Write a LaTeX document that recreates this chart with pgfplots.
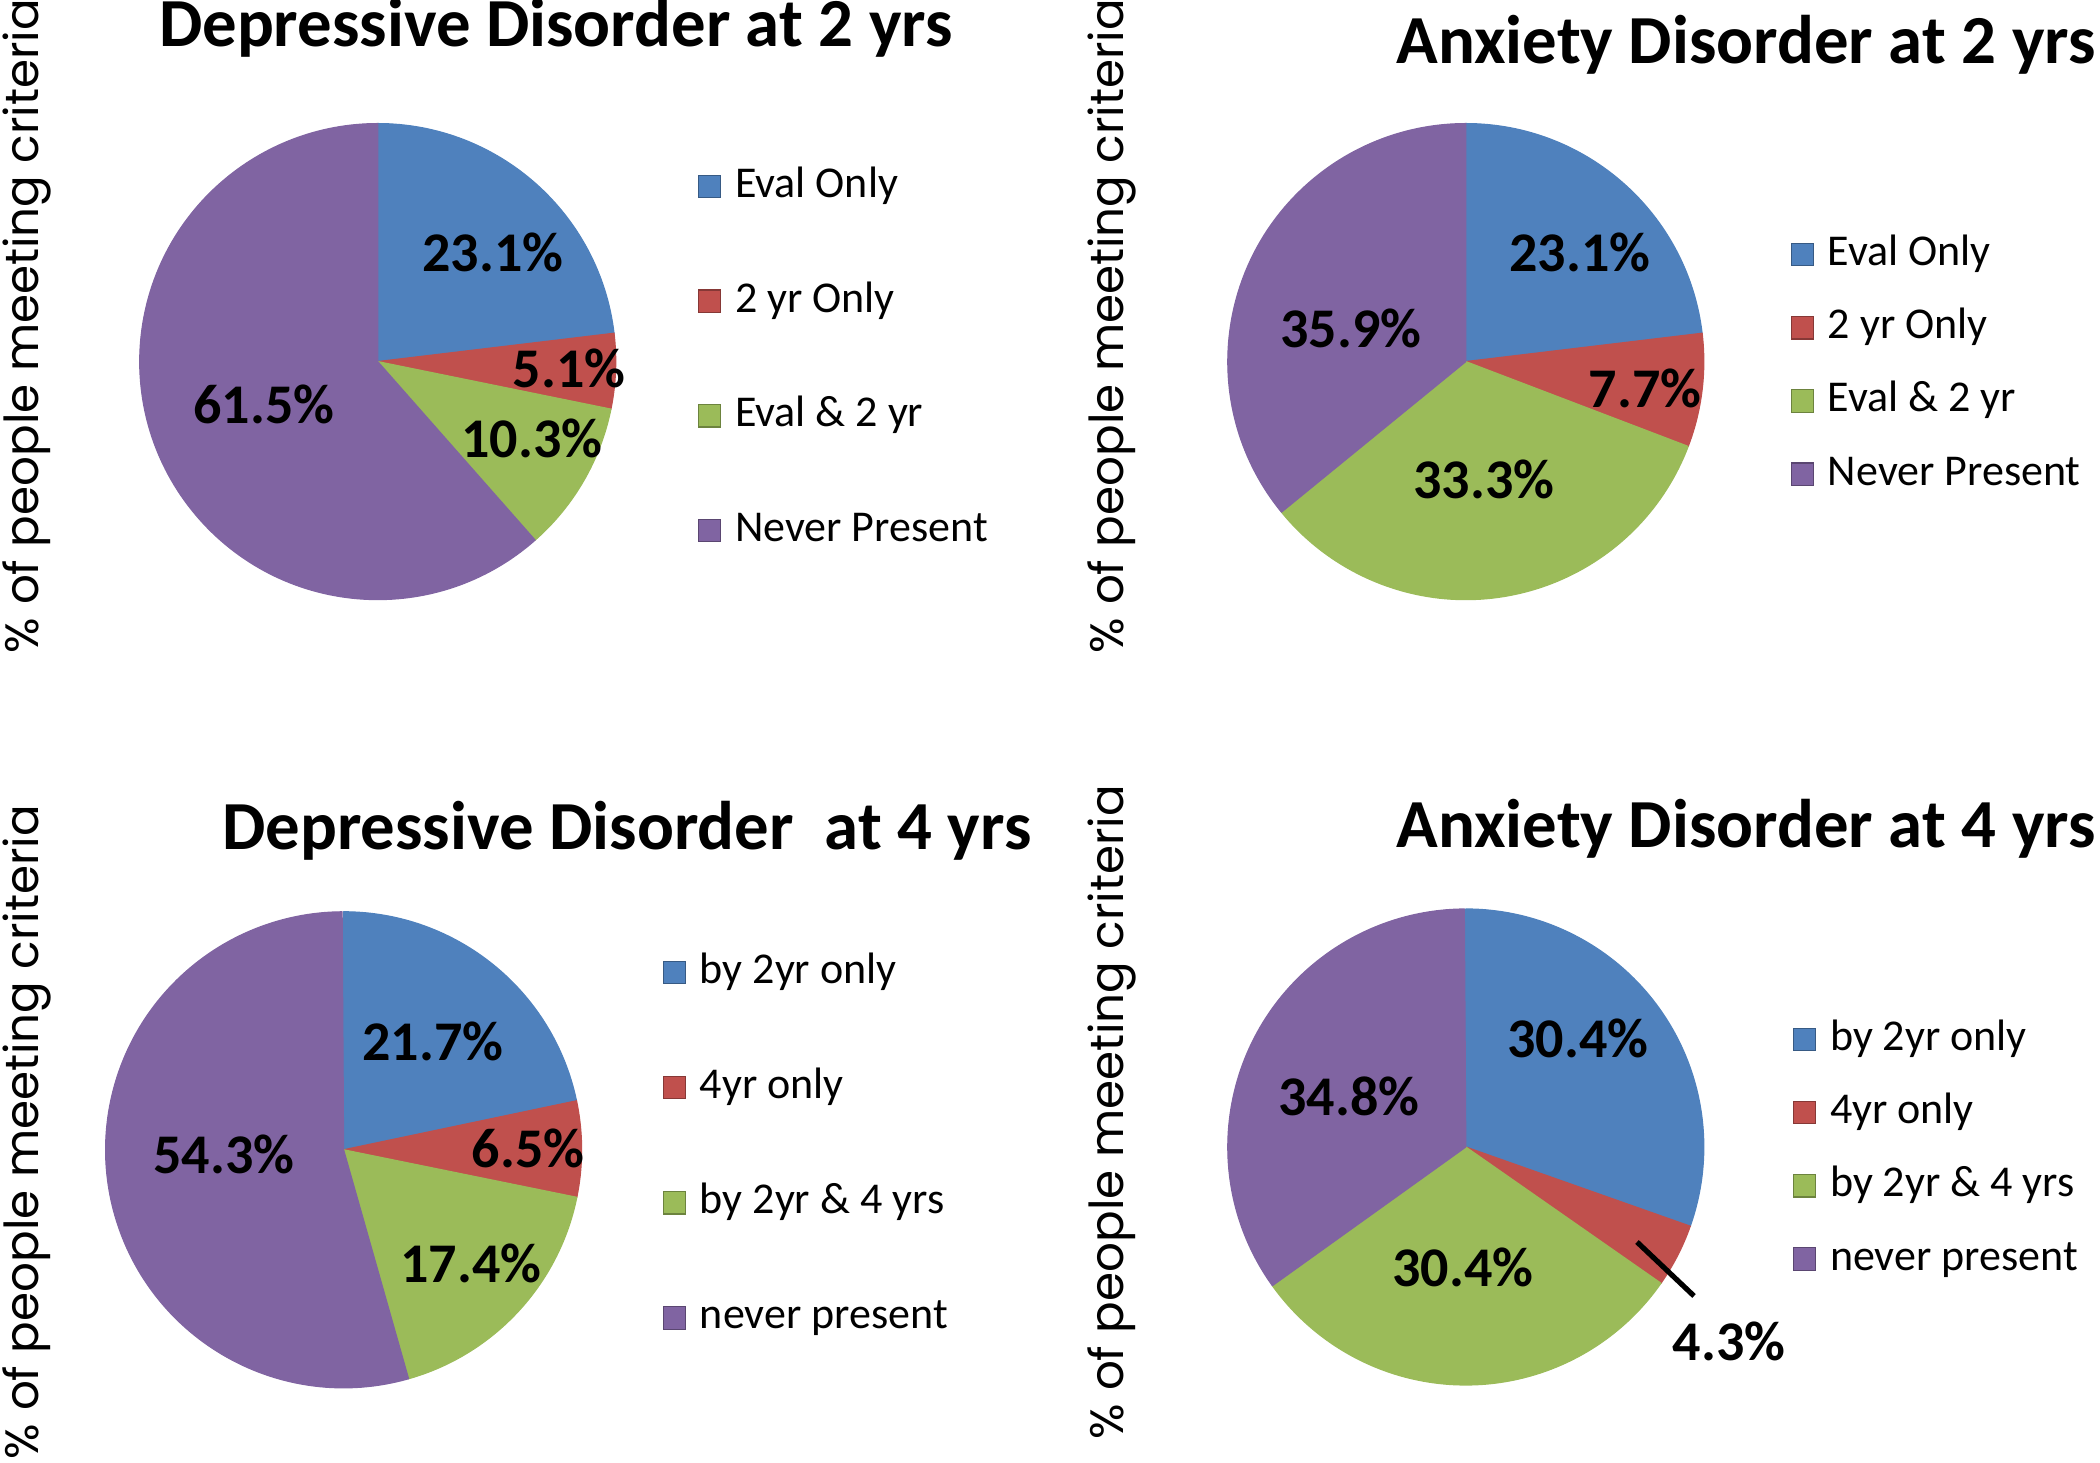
\documentclass[border=0pt]{standalone}
\usepackage{fontspec}
\setmainfont{Carlito}
\newfontfamily\ylfont{Poppins}
\usepackage{pgfplots}
\pgfplotsset{compat=1.18}
\definecolor{cBlue}{HTML}{4F81BD}
\definecolor{cRed}{HTML}{C0504D}
\definecolor{cGreen}{HTML}{9BBB59}
\definecolor{cPurple}{HTML}{8064A2}

\pgfdeclareplotmark{wedge}{%
  \pgfmathsetmacro\aone{90-3.6*\startp}%
  \pgfmathsetmacro\atwo{90-3.6*(\startp+\valp)}%
  \pgfpathmoveto{\pgfpointorigin}%
  \pgfpathlineto{\pgfpointpolar{\aone}{\pgfplotmarksize}}%
  \pgfpatharc{\aone}{\atwo}{\pgfplotmarksize}%
  \pgfpathclose
  \pgfusepathqfillstroke
}

\pgfplotsset{
  pie/.style={hide axis, scale only axis, width=119.25pt, height=119.25pt,
    xmin=-1, xmax=1, ymin=-1, ymax=1, clip=false, anchor=center,
    legend cell align=left,
    legend style={draw=none, fill=none, anchor=north west,
      font=\fontsize{11}{13}\selectfont, inner sep=0pt, column sep=3.4pt,
      nodes={inner sep=0pt, text height=7.5pt, text depth=2pt}}},
  slice/.style={only marks, mark=wedge, mark size=59.5pt,
    mark options={fill=#1, draw=#1, line width=0.3pt, line join=round}, fill=#1, draw=none,
    visualization depends on={\thisrow{s} \as \startp},
    visualization depends on={\thisrow{v} \as \valp},
    legend image code/.code={\fill[#1, draw=#1!70!black, line width=0.3pt] (0pt,-2.8pt) rectangle (5.6pt,2.8pt);}},
}

\begin{document}
\begin{tikzpicture}
\useasboundingbox (0,0) rectangle (525pt,-365.75pt);

% ---------- Top left: Depressive Disorder at 2 yrs
\begin{axis}[pie, at={(94.43pt,-90.4pt)},
  legend style={at={(axis cs:1.339,0.817)}, row sep=19.15pt}]
\addplot[slice=cBlue] table[row sep=\\] {x y s v\\ 0 0 0 23.1\\};
\addlegendentry{Eval Only}
\addplot[slice=cRed] table[row sep=\\] {x y s v\\ 0 0 23.1 5.1\\};
\addlegendentry{2 yr Only}
\addplot[slice=cGreen] table[row sep=\\] {x y s v\\ 0 0 28.2 10.3\\};
\addlegendentry{Eval \& 2 yr}
\addplot[slice=cPurple] table[row sep=\\] {x y s v\\ 0 0 38.5 61.5\\};
\addlegendentry{Never Present}
\end{axis}

% ---------- Top right: Anxiety Disorder at 2 yrs
\begin{axis}[pie, at={(366.45pt,-90.4pt)},
  legend style={at={(axis cs:1.359,0.532)}, row sep=8.8pt}]
\addplot[slice=cBlue] table[row sep=\\] {x y s v\\ 0 0 0 23.1\\};
\addlegendentry{Eval Only}
\addplot[slice=cRed] table[row sep=\\] {x y s v\\ 0 0 23.1 7.7\\};
\addlegendentry{2 yr Only}
\addplot[slice=cGreen] table[row sep=\\] {x y s v\\ 0 0 30.8 33.3\\};
\addlegendentry{Eval \& 2 yr}
\addplot[slice=cPurple] table[row sep=\\] {x y s v\\ 0 0 64.1 35.9\\};
\addlegendentry{Never Present}
\end{axis}

% ---------- Bottom left: Depressive Disorder at 4 yrs
\begin{axis}[pie, at={(85.9pt,-287.45pt)},
  legend style={at={(axis cs:1.335,0.827)}, row sep=19.3pt}]
\addplot[slice=cBlue] table[row sep=\\] {x y s v\\ 0 0 0 21.7\\};
\addlegendentry{by 2yr only}
\addplot[slice=cRed] table[row sep=\\] {x y s v\\ 0 0 21.7 6.5\\};
\addlegendentry{4yr only}
\addplot[slice=cGreen] table[row sep=\\] {x y s v\\ 0 0 28.2 17.4\\};
\addlegendentry{by 2yr \& 4 yrs}
\addplot[slice=cPurple] table[row sep=\\] {x y s v\\ 0 0 45.6 54.3\\};
\addlegendentry{never present}
\end{axis}

% ---------- Bottom right: Anxiety Disorder at 4 yrs
\begin{axis}[pie, at={(366.45pt,-286.75pt)},
  legend style={at={(axis cs:1.368,0.534)}, row sep=8.8pt}]
\addplot[slice=cBlue] table[row sep=\\] {x y s v\\ 0 0 0 30.4\\};
\addlegendentry{by 2yr only}
\addplot[slice=cRed] table[row sep=\\] {x y s v\\ 0 0 30.4 4.3\\};
\addlegendentry{4yr only}
\addplot[slice=cGreen] table[row sep=\\] {x y s v\\ 0 0 34.7 30.4\\};
\addlegendentry{by 2yr \& 4 yrs}
\addplot[slice=cPurple] table[row sep=\\] {x y s v\\ 0 0 65.1 34.8\\};
\addlegendentry{never present}
\end{axis}

% ---------- titles
\begin{scope}[every node/.style={font=\bfseries\fontsize{17.2}{19}\selectfont, anchor=base, inner sep=0pt}]
\node at (139pt,-11.75pt) {Depressive Disorder at 2 yrs};
\node at (436.5pt,-16pt) {Anxiety Disorder at 2 yrs};
\node at (156.75pt,-212.5pt) {Depressive Disorder\ \ at 4 yrs};
\node at (436.5pt,-212pt) {Anxiety Disorder at 4 yrs};
\end{scope}

% ---------- y labels
\begin{scope}[every node/.style={font=\ylfont\fontsize{11.7}{13}\selectfont, rotate=90, inner sep=0pt}]
\node at (6.75pt,-81.5pt) {\% of people meeting criteria};
\node at (278pt,-81.5pt) {\% of people meeting criteria};
\node at (6.75pt,-283pt) {\% of people meeting criteria};
\node at (278pt,-278pt) {\% of people meeting criteria};
\end{scope}

% ---------- data labels
\begin{scope}[every node/.style={font=\bfseries\fontsize{14}{16}\selectfont, inner sep=0pt}]
\node at (123.25pt,-63pt) {23.1\%};
\node at (142.25pt,-92pt) {5.1\%};
\node at (133pt,-109.5pt) {10.3\%};
\node at (66pt,-101pt) {61.5\%};
\node at (395pt,-63pt) {23.1\%};
\node at (411.25pt,-97pt) {7.7\%};
\node at (371pt,-119.75pt) {33.3\%};
\node at (337.75pt,-82pt) {35.9\%};
\node at (108.25pt,-260.25pt) {21.7\%};
\node at (132pt,-287pt) {6.5\%};
\node at (117.75pt,-315.75pt) {17.4\%};
\node at (56pt,-288.5pt) {54.3\%};
\node at (394.5pt,-259.5pt) {30.4\%};
\node at (337.25pt,-274pt) {34.8\%};
\node at (365.75pt,-316.75pt) {30.4\%};
\node at (432.25pt,-335.25pt) {4.3\%};
\end{scope}
\draw[line width=1.3pt] (409.25pt,-310.5pt) -- (423.5pt,-324pt);
\end{tikzpicture}
\end{document}
